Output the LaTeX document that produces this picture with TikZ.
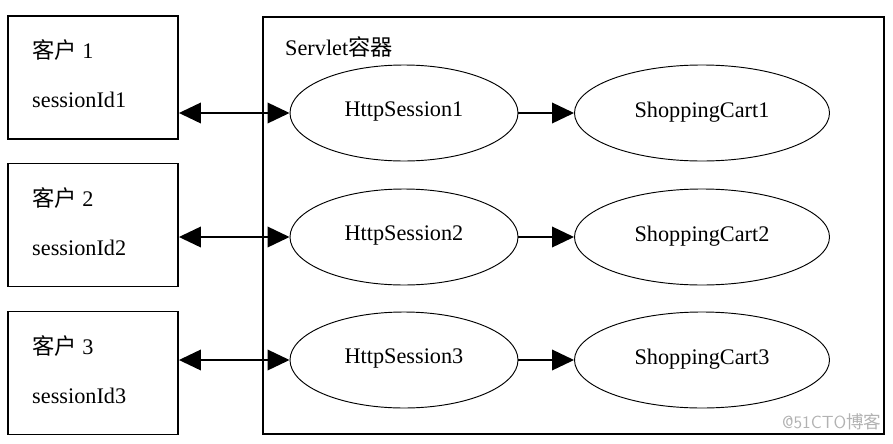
\documentclass[tikz,border=0pt]{standalone}
\usepackage{fontspec}
\setmainfont{Liberation Serif}
\newfontfamily\cjk{Noto Sans CJK SC}
\usetikzlibrary{shapes.geometric,arrows.meta}

\begin{document}
\begin{tikzpicture}[x=0.03cm,y=-0.03cm,font=\fontsize{19}{22}\selectfont,
	client/.style={draw,line width=1.6pt,minimum width=5.1cm,minimum height=3.69cm,inner sep=0pt},
	sess/.style={draw,ellipse,line width=0.8pt,minimum width=6.84cm,minimum height=2.88cm,inner sep=0pt,text depth=0.6em},
	cart/.style={draw,ellipse,line width=0.8pt,minimum width=7.65cm,minimum height=2.88cm,inner sep=0pt,text depth=0.5em},
	lbl/.style={anchor=base west,inner sep=0pt},
	link/.style={line width=1.2pt,-{Triangle[length=0.66cm,width=0.62cm]}},
	dlink/.style={line width=1.2pt,{Triangle[length=0.66cm,width=0.62cm]}-{Triangle[length=0.66cm,width=0.62cm]}}]
	\useasboundingbox (0,0) rectangle (893,443);
	\draw[line width=1.6pt] (263,17) rectangle (884,434);
	\node[lbl] (title) at (285,55) {Servlet{\cjk 容器}};
	\foreach \i/\yb/\yc in {1/77.5/113,2/225/237,3/373/360}{
		\node[client] (client\i) at (93,\yb) {};
		\node[lbl] (name\i) at (32,\yb-19) {{\cjk 客户}\ \i};
		\node[lbl] (sid\i) at (32,\yb+30) {sessionId\i};
		\node[sess] (session\i) at (404,\yc) {HttpSession\i};
		\node[cart] (cart\i) at (702,\yc) {ShoppingCart\i};
		\draw[dlink] (client\i.east |- session\i.west) -- (session\i.west);
		\draw[link] (session\i.east) -- (cart\i.west);
	}
	\node[anchor=south east,inner sep=2pt,text=black!30,font=\sffamily\fontsize{15}{17}\selectfont] (mark) at (884,432) {@51CTO{\cjk 博客}};
\end{tikzpicture}
\end{document}
